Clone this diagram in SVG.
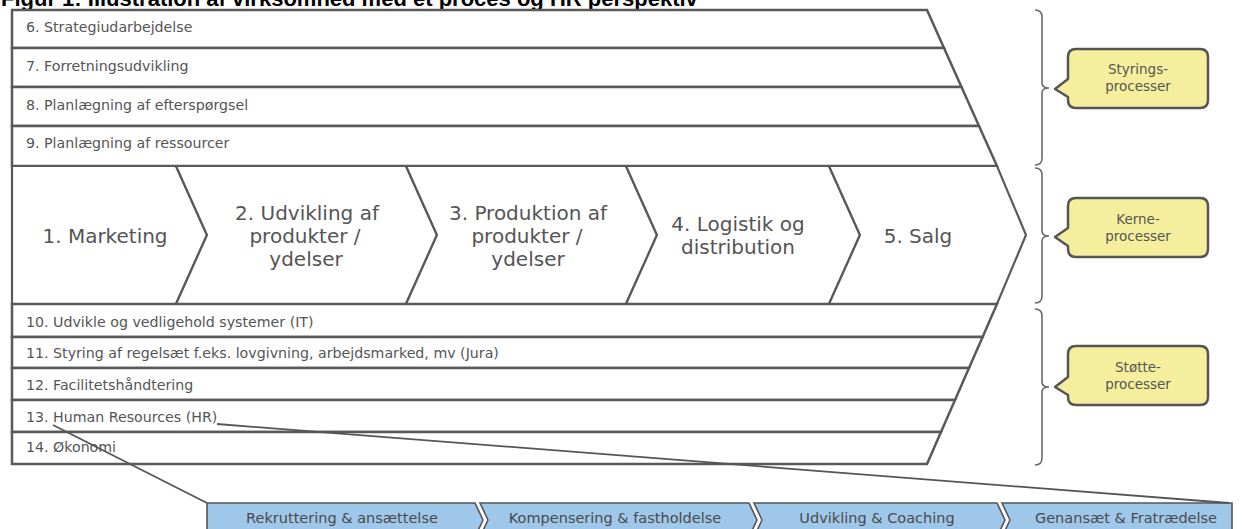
<svg xmlns="http://www.w3.org/2000/svg" width="1244" height="529" viewBox="0 0 1244 529">
  <style>
    .row { fill: #ffffff; stroke: #595959; stroke-width: 2.5; stroke-linejoin: miter; }
    .chev { fill: #ffffff; stroke: #595959; stroke-width: 2.2; stroke-linejoin: miter; }
    .lbl { font-family: "DejaVu Sans", Verdana, sans-serif; font-size: 14.2px; fill: #555555; }
    .big { font-family: "DejaVu Sans", Verdana, sans-serif; font-size: 20px; fill: #555555; text-anchor: middle; }
    .brace { fill: none; stroke: #6a6a6a; stroke-width: 1.6; }
    .call { fill: #f5ef9d; stroke: #555555; stroke-width: 2.5; stroke-linejoin: round; }
    .ctxt { font-family: "DejaVu Sans", Verdana, sans-serif; font-size: 13.5px; fill: #555555; text-anchor: middle; }
    .seg { fill: #9fc7ea; stroke: #555555; stroke-width: 1.6; stroke-linejoin: miter; }
    .stxt { font-family: "DejaVu Sans", Verdana, sans-serif; font-size: 14.5px; fill: #4a4a4a; text-anchor: middle; }
    .link { fill: none; stroke: #555555; stroke-width: 1.8; }
    .title { font-family: "Liberation Sans", Arial, sans-serif; font-size: 22px; font-weight: bold; fill: #000000; }
  </style>

  <!-- caption, clipped by the top edge -->
  <text class="title" x="1" y="6">Figur 1: Illustration af virksomhed med et proces og HR perspektiv</text>

  <!-- management processes -->
  <g id="p6"><polygon class="row" points="12,10 927,10 944,48 12,48"/><text class="lbl" x="26" y="32">6. Strategiudarbejdelse</text></g>
  <g id="p7"><polygon class="row" points="12,48 944,48 961.5,87 12,87"/><text class="lbl" x="26" y="71">7. Forretningsudvikling</text></g>
  <g id="p8"><polygon class="row" points="12,87 961.5,87 979,126 12,126"/><text class="lbl" x="26" y="110">8. Planlægning af efterspørgsel</text></g>
  <g id="p9"><polygon class="row" points="12,126 979,126 997,166 12,166"/><text class="lbl" x="26" y="148">9. Planlægning af ressourcer</text></g>

  <!-- core processes -->
  <g id="c1"><polygon class="chev" points="12,166 176,166 207,235 176,304 12,304"/><text class="big" x="105" y="243">1. Marketing</text></g>
  <g id="c2"><polygon class="chev" points="176,166 406,166 437,235 406,304 176,304 207,235"/>
    <text class="big" x="307" y="220">2. Udvikling af</text><text class="big" x="305" y="243">produkter /</text><text class="big" x="306" y="266">ydelser</text></g>
  <g id="c3"><polygon class="chev" points="406,166 626,166 657,235 626,304 406,304 437,235"/>
    <text class="big" x="528" y="220">3. Produktion af</text><text class="big" x="527" y="243">produkter /</text><text class="big" x="528" y="266">ydelser</text></g>
  <g id="c4"><polygon class="chev" points="626,166 829,166 860,235 829,304 626,304 657,235"/>
    <text class="big" x="738" y="231">4. Logistik og</text><text class="big" x="738" y="254">distribution</text></g>
  <g id="c5"><polygon class="chev" points="829,166 997,166 1026,235 997,304 829,304 860,235"/><text class="big" x="918" y="243">5. Salg</text></g>

  <!-- support processes -->
  <g id="p10"><polygon class="row" points="12,304 997,304 982.6,337 12,337"/><text class="lbl" x="26" y="327">10. Udvikle og vedligehold systemer (IT)</text></g>
  <g id="p11"><polygon class="row" points="12,337 982.6,337 969,368 12,368"/><text class="lbl" x="26" y="358">11. Styring af regelsæt f.eks. lovgivning, arbejdsmarked, mv (Jura)</text></g>
  <g id="p12"><polygon class="row" points="12,368 969,368 955,400 12,400"/><text class="lbl" x="26" y="390">12. Facilitetshåndtering</text></g>
  <g id="p13"><polygon class="row" points="12,400 955,400 941,432 12,432"/><text class="lbl" x="26" y="422">13. Human Resources (HR)</text></g>
  <g id="p14"><polygon class="row" points="12,432 941,432 927,464 12,464"/><text class="lbl" x="26" y="452">14. Økonomi</text></g>

  <!-- group braces and labels -->
  <g id="styring">
    <path class="brace" d="M1035,10 Q1042,10 1042,17 V83 Q1042,88 1049,88 Q1042,88 1042,93 V158 Q1042,165 1035,165"/>
    <path class="call" d="M1076,49 H1200 Q1208,49 1208,57 V100 Q1208,108 1200,108 H1076 Q1068,108 1068,100 V97 L1055,89 L1068,79 V57 Q1068,49 1076,49 Z"/>
    <text class="ctxt" x="1138" y="74">Styrings-</text><text class="ctxt" x="1138" y="91">processer</text>
  </g>
  <g id="kerne">
    <path class="brace" d="M1035,168 Q1042,168 1042,175 V231 Q1042,236 1049,236 Q1042,236 1042,241 V296 Q1042,303 1035,303"/>
    <path class="call" d="M1076,198 H1200 Q1208,198 1208,206 V249 Q1208,257 1200,257 H1076 Q1068,257 1068,249 V246 L1055,237 L1068,228 V206 Q1068,198 1076,198 Z"/>
    <text class="ctxt" x="1138" y="224">Kerne-</text><text class="ctxt" x="1138" y="241">processer</text>
  </g>
  <g id="stotte">
    <path class="brace" d="M1035,309 Q1042,309 1042,316 V382 Q1042,387 1049,387 Q1042,387 1042,392 V458 Q1042,465 1035,465"/>
    <path class="call" d="M1076,346 H1200 Q1208,346 1208,354 V397 Q1208,405 1200,405 H1076 Q1068,405 1068,397 V395 L1055,387 L1068,377 V354 Q1068,346 1076,346 Z"/>
    <text class="ctxt" x="1138" y="372">Støtte-</text><text class="ctxt" x="1138" y="389">processer</text>
  </g>

  <!-- HR detail bar -->
  <g id="hr1"><polygon class="seg" points="207,503 475,503 483,520 475,537 207,537"/><text class="stxt" x="342" y="523">Rekruttering &amp; ansættelse</text></g>
  <g id="hr2"><polygon class="seg" points="480,503 749,503 757,520 749,537 480,537 488,520"/><text class="stxt" x="615" y="523">Kompensering &amp; fastholdelse</text></g>
  <g id="hr3"><polygon class="seg" points="754,503 997,503 1005,520 997,537 754,537 762,520"/><text class="stxt" x="877" y="523">Udvikling &amp; Coaching</text></g>
  <g id="hr4"><polygon class="seg" points="1002,503 1232,503 1232,537 1002,537 1010,520"/><text class="stxt" x="1126" y="523">Genansæt &amp; Fratrædelse</text></g>

  <!-- zoom lines from HR row to the detail bar -->
  <g id="connectors">
    <line class="link" x1="53" y1="425" x2="207" y2="503"/>
    <line class="link" x1="217" y1="424" x2="1229" y2="503"/>
  </g>
</svg>
